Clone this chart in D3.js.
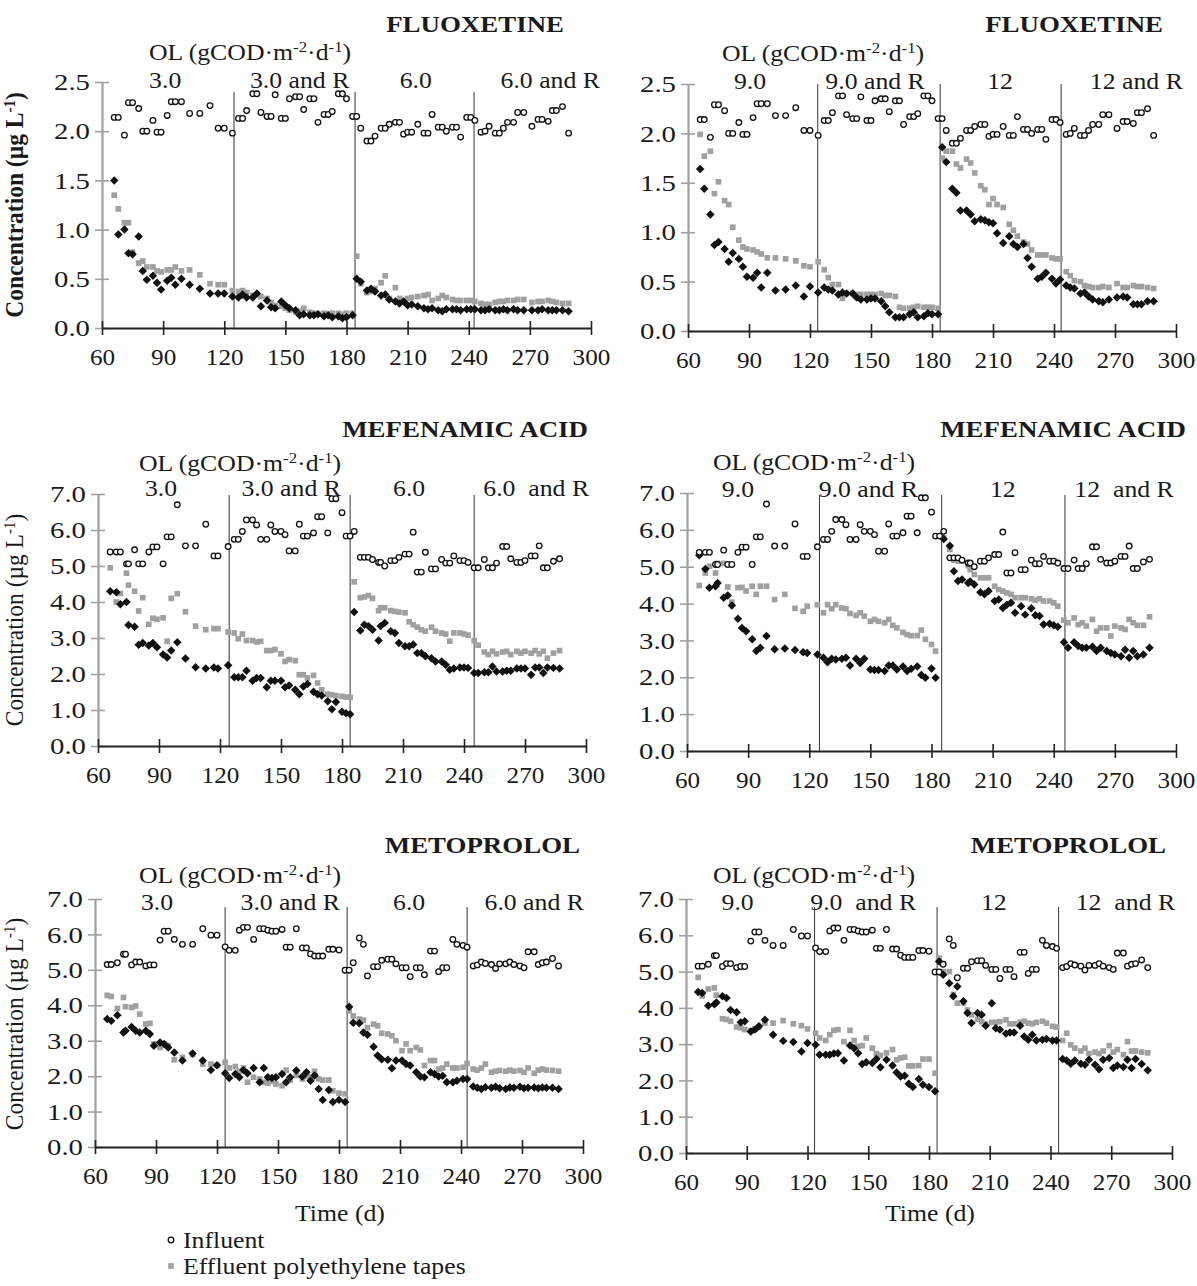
<!DOCTYPE html>
<html>
<head>
<meta charset="utf-8">
<script src="https://cdn.jsdelivr.net/npm/d3@7"></script>
<style>
  body { margin: 0; background: #fff; }
  text { font-family: "Liberation Serif", "Times New Roman", serif; fill: #1a1a1a; white-space: pre; }
</style>
</head>
<body>
<div id="chart"></div>
<script>
// ---- data ----
const dayTicks = [60, 90, 120, 150, 180, 210, 240, 270, 300];
const fluoTicks = [0, 0.5, 1.0, 1.5, 2.0, 2.5];
const concTicks = [0, 1, 2, 3, 4, 5, 6, 7];

// FLUOXETINE
const fluoDays = [66,68,71,73,75,78,80,82,85,87, 89,92,94,96,99,103,108,113,117,120,
  124,127,129,131,134,136,138,141,143,145, 148,150,152,155,157,159,162,164,166,169,
  171,173,176,178,180,183,185,187,190,192, 194,197,199,201,204,206,208,210,212,215,
  218,220,222,225,227,229,232,234,236,239, 241,243,246,248,250,253,255,257,259,262,
  264,267,271,274,276,279,281,283,286,289];
const fluoInf = [2.14,2.14,1.96,2.29,2.29,2.23,2.00,2.00,2.11,1.99, 1.99,2.16,2.30,2.30,2.30,2.18,2.18,2.26,2.03,2.03,
  1.98,2.13,2.13,2.21,2.38,2.38,2.19,2.15,2.15,2.37, 2.13,2.13,2.33,2.35,2.35,2.22,2.33,2.33,2.09,2.17,
  2.17,2.20,2.38,2.38,2.33,2.15,2.15,2.03,1.90,1.90, 1.95,2.03,2.03,2.07,2.09,2.09,1.97,1.99,1.99,2.07,
  1.98,1.98,2.17,2.04,2.04,2.00,2.04,2.04,1.94,2.14, 2.14,2.11,1.99,2.00,2.05,1.98,1.98,2.03,2.09,2.09,
  2.19,2.19,2.05,2.12,2.12,2.10,2.21,2.21,2.25,1.98];
const fluoTapesL = [1.35,1.21,1.07,1.07,0.77,0.66,0.68,0.62,0.62,0.58, 0.57,0.59,0.59,0.62,0.58,0.59,0.54,0.45,0.44,0.44,
  0.38,0.37,0.38,0.36,0.33,0.34,0.32,0.30,0.26,0.23, 0.22,0.20,0.18,0.16,0.17,0.20,0.16,0.15,0.14,0.15,
  0.14,0.15,0.15,0.14,0.15,0.15,0.73,0.45,0.36,0.37, 0.40,0.46,0.53,0.30,0.41,0.30,0.28,0.30,0.31,0.32,
  0.33,0.34,0.28,0.30,0.33,0.31,0.29,0.28,0.28,0.28, 0.28,0.27,0.25,0.24,0.24,0.26,0.27,0.27,0.28,0.28,
  0.29,0.29,0.26,0.27,0.27,0.28,0.27,0.26,0.25,0.25];
const fluoOtherL = [1.50,0.95,1.00,0.76,0.75,0.93,0.58,0.49,0.53,0.46, 0.39,0.48,0.51,0.44,0.50,0.44,0.40,0.35,0.35,0.35,
  0.32,0.31,0.34,0.31,0.31,0.35,0.22,0.28,0.21,0.20, 0.27,0.23,0.20,0.18,0.13,0.14,0.13,0.13,0.14,0.12,
  0.13,0.11,0.12,0.10,0.11,0.13,0.50,0.47,0.38,0.40, 0.37,0.33,0.34,0.29,0.27,0.25,0.27,0.23,0.24,0.22,
  0.20,0.19,0.20,0.18,0.17,0.19,0.19,0.19,0.18,0.19, 0.19,0.19,0.18,0.18,0.19,0.18,0.18,0.19,0.18,0.19,
  0.18,0.18,0.18,0.18,0.19,0.18,0.18,0.18,0.18,0.17];
const fluoTapesR = [1.99,1.77,1.82,1.39,1.51,1.32,1.28,1.05,0.92,0.85, 0.83,0.82,0.80,0.78,0.74,0.74,0.73,0.71,0.66,0.65,
  0.70,0.62,0.54,0.47,0.47,0.33,0.38,0.38,0.37,0.37, 0.37,0.37,0.37,0.38,0.36,0.36,0.35,0.24,0.23,0.23,
  0.24,0.25,0.24,0.24,0.24,0.23,1.75,1.82,1.82,1.69, 1.65,1.74,1.70,1.60,1.47,1.43,1.28,1.34,1.28,1.25,
  1.08,1.02,0.96,0.90,0.88,0.82,0.77,0.77,0.77,0.74, 0.73,0.73,0.60,0.56,0.51,0.50,0.46,0.45,0.44,0.44,
  0.45,0.44,0.48,0.44,0.44,0.46,0.45,0.45,0.44,0.43];
const fluoOtherR = [1.64,1.44,1.18,0.87,0.90,0.83,0.70,0.79,0.73,0.65, 0.55,0.54,0.59,0.44,0.59,0.41,0.42,0.46,0.35,0.45,
  0.39,0.44,0.42,0.41,0.37,0.39,0.38,0.38,0.34,0.32, 0.32,0.33,0.33,0.30,0.25,0.19,0.14,0.14,0.14,0.17,
  0.19,0.14,0.15,0.18,0.17,0.17,1.86,1.71,1.44,1.40, 1.22,1.22,1.18,1.11,1.13,1.12,1.10,1.09,0.99,0.89,
  0.96,0.88,0.85,0.88,0.74,0.65,0.53,0.55,0.59,0.53, 0.48,0.52,0.46,0.44,0.43,0.38,0.39,0.35,0.32,0.30,
  0.29,0.32,0.34,0.35,0.34,0.27,0.27,0.27,0.30,0.30];

// MEFENAMIC ACID
const mefDays = [66,69,71,74,75,78,80,82,85,87, 89,92,94,96,99,103,108,113,117,119,
  124,127,129,131,133,136,138,140,143,145, 147,150,152,154,157,159,161,163,166,168,
  170,173,175,177,180,182,184,186,189,191, 193,195,198,199,201,204,206,208,211,213,
  215,217,219,221,224,226,229,231,233,235, 238,240,242,245,247,250,252,254,256,259,
  261,263,266,268,270,273,275,277,279,281, 284,287];
const mefInf = [5.39,5.39,5.39,5.06,5.06,5.45,5.06,5.06,5.39,5.53, 5.53,5.06,5.81,5.81,6.70,5.56,5.56,6.16,5.28,5.28,
  5.54,5.74,5.74,5.96,6.28,6.28,6.14,5.74,5.74,6.14, 5.96,5.96,5.87,5.42,5.42,6.16,5.83,5.83,5.92,6.37,
  6.37,5.92,6.87,6.87,6.48,5.83,5.83,5.96,5.24,5.24, 5.24,5.18,5.10,5.10,5.00,5.15,5.15,5.24,5.33,5.33,
  5.94,4.83,4.83,5.38,4.92,4.92,5.18,5.08,5.08,5.28, 5.15,5.15,5.10,4.95,4.95,5.18,4.95,4.95,5.08,5.54,
  5.54,5.20,5.10,5.10,5.15,5.28,5.28,5.56,4.95,4.95, 5.13,5.20];
const mefTapesL = [4.95,4.00,4.24,4.80,4.47,4.30,3.75,4.12,3.38,3.55, 3.52,3.56,2.91,4.10,4.23,3.73,3.33,3.23,3.26,3.26,
  3.17,3.14,2.98,3.11,2.93,2.93,2.89,2.91,2.65,2.65, 2.68,2.56,2.35,2.40,2.37,1.98,1.98,1.89,1.96,1.75,
  1.56,1.44,1.42,1.40,1.38,1.36,1.35,4.56,4.12,4.14, 4.18,4.10,3.76,3.84,3.84,3.76,3.74,3.72,3.70,3.45,
  3.37,3.30,3.23,3.19,3.30,3.19,3.14,3.11,2.91,3.14, 3.14,3.11,3.08,2.93,2.80,2.61,2.54,2.63,2.56,2.61,
  2.63,2.54,2.63,2.58,2.63,2.58,2.65,2.56,2.63,2.44, 2.58,2.65];
const mefOtherL = [4.30,4.27,3.94,4.00,3.36,3.31,2.81,2.86,2.79,2.86, 2.74,2.54,2.46,2.65,2.88,2.43,2.19,2.15,2.18,2.15,
  2.24,1.91,1.91,1.91,2.09,1.81,1.89,1.89,1.63,1.81, 1.81,1.81,1.63,1.68,1.56,1.44,1.65,1.72,1.51,1.44,
  1.40,1.24,1.02,1.22,0.95,0.91,0.88,3.72,3.21,3.37, 3.33,3.23,2.93,3.33,3.42,3.19,3.14,2.86,2.77,2.77,
  2.82,2.58,2.58,2.49,2.44,2.35,2.35,2.26,2.12,2.15, 2.18,2.18,2.17,2.03,2.03,2.05,2.05,2.21,2.07,2.07,
  2.09,2.09,2.15,2.15,2.15,1.98,2.18,2.18,2.03,2.18, 2.17,2.15];
const mefTapesR = [4.49,4.83,5.01,4.83,5.09,5.09,4.45,4.04,4.43,4.44, 4.34,4.47,4.25,4.47,4.47,4.11,4.25,3.87,3.79,3.93,
  3.97,3.75,3.97,3.86,3.97,3.88,3.86,3.73,3.68,3.75, 3.66,3.52,3.57,3.52,3.48,3.57,3.41,3.34,3.22,3.16,
  3.13,3.13,3.28,3.03,2.89,2.71,null,5.78,5.47,5.18, 5.15,5.15,5.03,4.92,4.79,4.70,4.70,4.70,4.47,4.38,
  4.34,4.29,4.25,4.16,4.16,4.16,4.13,4.09,4.13,4.07, 4.07,4.02,3.93,3.55,3.48,3.61,3.43,3.48,3.39,3.57,
  3.25,3.34,3.34,3.12,3.39,3.34,3.30,3.57,3.48,3.41, 3.41,3.64];
const mefOtherR = [5.31,4.94,4.43,4.47,4.56,4.16,4.22,3.95,3.59,3.34, 3.25,3.03,2.71,2.80,3.12,2.76,2.78,2.74,2.68,2.66,
  2.62,2.53,2.41,2.50,2.48,2.50,2.53,2.32,2.50,2.39, 2.50,2.21,2.20,2.20,2.17,2.32,2.32,2.21,2.29,2.17,
  2.23,2.29,2.06,1.99,2.24,1.99,null,5.75,5.57,4.88, 4.61,4.65,4.56,4.60,4.52,4.31,4.25,4.34,4.07,4.11,
  3.88,3.97,4.02,3.75,3.93,3.70,3.87,3.68,3.66,3.43, 3.45,3.41,3.37,2.95,2.80,2.95,2.85,2.80,2.80,2.83,
  2.71,2.80,2.71,2.66,2.62,2.57,2.75,2.53,2.71,2.57, 2.62,2.80];

// METOPROLOL
const metDays = [66,68,71,74,75,78,80,82,85,87, 89,92,94,96,99,103,108,113,117,120,
  124,126,129,131,133,135,138,141,143,145, 147,149,152,154,156,159,162,164,166,168,
  170,172,175,177,180,183,185,187,190,192, 194,197,199,201,204,206,208,211,213,215,
  218,220,222,225,227,229,231,233,236,238, 241,243,246,248,250,252,255,257,259,262,
  264,266,269,271,273,276,278,280,282,285, 288];
const metInf = [5.15,5.15,5.20,5.44,5.44,5.14,5.22,5.22,5.11,5.14, 5.14,5.84,6.09,6.09,5.86,5.72,5.72,6.16,5.98,5.98,
  5.65,5.55,5.55,6.12,6.20,6.20,5.86,6.16,6.16,6.12, 6.09,6.09,6.14,5.64,5.64,6.16,5.62,5.62,5.45,5.39,
  5.39,5.39,5.58,5.58,5.56,4.99,4.99,5.20,5.90,5.72, 4.83,5.09,5.09,5.27,5.30,5.30,5.17,5.06,5.06,4.81,
  5.06,5.06,4.86,5.53,5.53,4.95,5.06,5.06,5.86,5.72, 5.69,5.64,5.11,5.14,5.22,5.18,5.15,5.04,5.17,5.17,
  5.22,5.15,5.11,5.06,5.51,5.51,5.15,5.20,5.22,5.32, 5.11];
const metTapesL = [4.28,4.25,3.91,4.22,3.96,3.94,3.98,3.75,3.47,3.49, 2.91,2.81,2.91,2.86,2.46,2.53,2.61,2.34,2.34,2.30,
  2.39,2.23,2.27,2.14,2.23,1.83,1.97,1.92,1.83,1.80, 1.86,1.78,1.73,2.17,1.89,2.02,1.92,1.99,1.97,2.14,
  1.92,1.89,1.89,1.59,1.52,1.50,3.84,3.70,3.61,3.58, 3.37,3.47,3.42,3.21,3.19,3.14,3.00,2.72,2.91,2.72,
  2.81,2.74,2.30,2.44,2.44,2.20,2.23,2.34,2.23,2.23, 2.25,2.36,2.20,2.17,2.23,2.34,2.11,2.14,2.16,2.14,
  2.17,2.14,2.16,2.11,2.23,2.08,2.17,2.20,2.17,2.16, 2.14];
const metOtherL = [3.61,3.56,3.72,3.23,3.28,3.39,3.28,3.23,3.28,3.19, 2.86,2.95,2.91,2.81,2.67,2.44,2.64,2.44,2.17,2.31,
  2.08,1.95,2.06,1.97,2.17,2.08,2.23,1.83,2.23,1.97, 1.95,1.97,2.06,1.83,1.97,2.16,1.99,2.11,1.87,2.02,
  1.64,1.33,1.61,1.27,1.33,1.27,3.96,3.51,3.49,3.23, 3.17,2.83,2.58,2.48,2.46,2.22,2.44,2.44,2.34,2.30,
  2.11,1.99,1.97,2.11,2.06,1.99,2.01,1.83,1.83,1.87, 1.92,1.92,1.71,1.67,1.64,1.69,1.67,1.70,1.66,1.64,
  1.68,1.67,1.70,1.66,1.67,1.68,1.66,1.68,1.67,1.67, 1.64];
const metTapesR = [4.84,4.33,4.52,4.55,4.35,3.70,3.68,3.63,3.47,3.45, 3.40,3.37,3.42,3.47,3.58,3.58,3.65,3.56,3.51,3.42,
  3.30,3.17,3.10,3.26,3.38,3.40,3.07,3.38,3.10,2.94, 2.96,3.17,2.89,2.74,2.69,2.76,2.85,2.57,2.62,2.64,
  2.40,2.40,2.41,2.59,2.59,2.20,5.37,5.00,5.00,4.37, 4.13,4.13,3.94,3.81,3.68,3.62,3.56,3.60,3.60,3.62,
  3.67,3.56,3.56,3.60,3.63,3.58,3.56,3.60,3.63,3.58, 3.49,3.47,3.10,3.30,2.98,2.89,2.81,2.89,2.74,2.78,
  2.74,2.81,2.96,2.78,2.85,2.71,3.07,2.81,2.81,2.78, 2.76];
const metOtherR = [4.44,4.41,4.06,4.10,4.15,4.32,4.27,3.94,3.88,3.60, 3.63,3.35,3.40,3.49,3.67,3.26,3.09,3.06,2.80,3.03,
  2.98,2.71,2.71,2.71,2.74,2.75,2.55,2.96,2.89,2.75, 2.45,2.50,2.48,2.59,2.36,2.57,2.41,2.22,2.11,2.13,
  1.91,1.82,2.04,1.88,1.82,1.70,5.28,4.91,4.68,4.32, 4.59,4.18,3.86,3.58,3.86,3.81,3.51,4.13,3.44,3.40,
  3.29,3.32,3.32,3.51,3.21,3.12,3.26,3.10,3.12,3.14, 3.10,3.10,2.59,2.55,2.46,2.55,2.46,2.43,2.57,2.43,
  2.31,2.57,2.62,2.34,2.41,2.37,2.57,2.34,2.59,2.45, 2.28];

// organic loading periods (labels) and the days where they change
const fluoPeriodsL = ["3.0", "3.0 and R", "6.0", "6.0 and R"];
const fluoPeriodsR = ["9.0", "9.0 and R", "12", "12 and R"];
const mefPeriodsL = ["3.0", "3.0 and R", "6.0", "6.0  and R"];
const mefPeriodsR = ["9.0", "9.0 and R", "12", "12  and R"];
const metPeriodsL = ["3.0", "3.0 and R", "6.0", "6.0 and R"];
const metPeriodsR = ["9.0", "9.0  and R", "12", "12  and R"];
const fluoSwitchL = [124.8, 184.2, 242.6];
const fluoSwitchR = [123.8, 184.0, 243.5];
const mefSwitchL = [124.5, 184.0, 245.0];
const mefSwitchR = [125.0, 185.0, 245.5];
const metSwitchL = [124.0, 184.0, 243.0];
const metSwitchR = [123.5, 184.0, 244.0];

// ---- panel layout ----
const panels = [
  { title: "FLUOXETINE", ticks: fluoTicks, days: fluoDays, inf: fluoInf, tapes: fluoTapesL, other: fluoOtherL,
    periods: fluoPeriodsL, switches: fluoSwitchL, labelDays: [91, 157, 214, 280],
    x0: 102, x1: 591, yb: 328, yt: 82, titleX: 564, titleY: 32, olX: 250, olY: 60, segY: 88, sepTop: 92,
    ylab: { y: 205, bold: true } },
  { title: "FLUOXETINE", ticks: fluoTicks, days: fluoDays, inf: fluoInf, tapes: fluoTapesR, other: fluoOtherR,
    periods: fluoPeriodsR, switches: fluoSwitchR, labelDays: [90.5, 152, 213.5, 280.5],
    x0: 688, x1: 1176, yb: 331, yt: 84, titleX: 1163, titleY: 32, olX: 823, olY: 61, segY: 89, sepTop: 84 },
  { title: "MEFENAMIC ACID", ticks: concTicks, days: mefDays, inf: mefInf, tapes: mefTapesL, other: mefOtherL,
    periods: mefPeriodsL, switches: mefSwitchL, labelDays: [91, 155, 213, 275.5],
    x0: 98, x1: 586, yb: 746, yt: 494, titleX: 588, titleY: 437, olX: 240, olY: 471, segY: 496, sepTop: 495,
    ylab: { y: 620, bold: false } },
  { title: "MEFENAMIC ACID", ticks: concTicks, days: mefDays, inf: mefInf, tapes: mefTapesR, other: mefOtherR,
    periods: mefPeriodsR, switches: mefSwitchR, labelDays: [85, 149, 215, 274.5],
    x0: 687, x1: 1176, yb: 751, yt: 493, titleX: 1186, titleY: 437, olX: 814, olY: 470, segY: 497, sepTop: 495 },
  { title: "METOPROLOL", ticks: concTicks, days: metDays, inf: metInf, tapes: metTapesL, other: metOtherL,
    periods: metPeriodsL, switches: metSwitchL, labelDays: [90.5, 156, 214.5, 276],
    x0: 95, x1: 583, yb: 1147, yt: 899, titleX: 580, titleY: 853, olX: 240, olY: 883, segY: 910, sepTop: 907,
    ylab: { y: 1024, bold: false } },
  { title: "METOPROLOL", ticks: concTicks, days: metDays, inf: metInf, tapes: metTapesR, other: metOtherR,
    periods: metPeriodsR, switches: metSwitchR, labelDays: [85.5, 147.5, 212, 277],
    x0: 686, x1: 1172, yb: 1153, yt: 899, titleX: 1166, titleY: 853, olX: 814, olY: 883, segY: 910, sepTop: 907 }
];

const grey = "#a0a0a0";
const ink = "#1a1a1a";
const sx = 1.12;        // the printed figure is a bit wider than tall, text included

let svg = d3.select("#chart")
    .append("svg")
    .attr("width", 1197)
    .attr("height", 1286);

let squareSym = d3.symbol().type(d3.symbolSquare).size(32)();
let diamondSym = d3.symbol().type(d3.symbolSquare).size(36)();   // rotated 45deg below

// text helper: place and stretch a bit horizontally
function label(parent, x, y, size, stretch) {
    return parent.append("text")
        .attr("transform", `translate(${x},${y}) scale(${stretch || sx},1)`)
        .attr("font-size", size);
}

function supText(sel, parts, size) {
    // parts: [text, sup, text, sup, ...]
    parts.forEach(function (p, i) {
        let t = sel.append("tspan").text(p);
        if (i % 2 == 1) t.attr("baseline-shift", "super").attr("font-size", size);
    });
}

panels.forEach(function (p) {
    let g = svg.append("g");

    let x = d3.scaleLinear().domain([60, 300]).range([p.x0, p.x1]);
    let y = d3.scaleLinear().domain([0, d3.max(p.ticks)]).range([p.yb, p.yt]);

    // y axis - light grey
    let yAxis = g.append("g")
        .attr("transform", `translate(${p.x0},0)`)
        .call(d3.axisLeft(y).tickValues(p.ticks).tickFormat(d3.format(".1f")).tickSizeInner(7).tickSizeOuter(0));
    yAxis.attr("font-family", null).attr("font-size", null);
    yAxis.select(".domain").attr("stroke", grey).attr("stroke-width", 2.2);
    yAxis.selectAll(".tick line").attr("x1", 7).attr("stroke", grey).attr("stroke-width", 1.6);
    yAxis.selectAll(".tick text")
        .attr("transform", "scale(1.28,1)")
        .attr("x", -12 / 1.28).attr("dy", "0.34em")
        .attr("font-size", 22.5).style("fill", ink);

    // x axis - dark
    let xAxis = g.append("g")
        .attr("transform", `translate(0,${p.yb})`)
        .call(d3.axisBottom(x).tickValues(dayTicks).tickSizeInner(7).tickSizeOuter(0));
    xAxis.attr("font-family", null).attr("font-size", null);
    xAxis.select(".domain").attr("stroke", "#222").attr("stroke-width", 1.8);
    xAxis.selectAll(".tick line").attr("y1", -7).attr("stroke", "#222").attr("stroke-width", 1.6);
    xAxis.selectAll(".tick text")
        .attr("transform", `scale(${sx},1)`)
        .attr("y", 37).attr("dy", 0)
        .attr("font-size", 22.5).style("fill", ink);

    // period separators
    g.selectAll(".sep")
        .data(p.switches)
        .join("line")
        .attr("class", "sep")
        .attr("x1", d => x(d)).attr("x2", d => x(d))
        .attr("y1", p.sepTop).attr("y2", p.yb)
        .attr("stroke", "#333")
        .attr("stroke-width", 1);

    let rows = function (vals) {
        return p.days.map((d, i) => ({ day: d, v: vals[i] })).filter(d => d.v != null);
    };

    // effluent polyethylene tapes - grey squares
    g.selectAll(".pe")
        .data(rows(p.tapes))
        .join("path")
        .attr("class", "pe")
        .attr("d", squareSym)
        .attr("transform", d => `translate(${x(d.day)},${y(d.v)})`)
        .attr("fill", grey);

    // other effluent - black diamonds
    g.selectAll(".dia")
        .data(rows(p.other))
        .join("path")
        .attr("class", "dia")
        .attr("d", diamondSym)
        .attr("transform", d => `translate(${x(d.day)},${y(d.v)}) rotate(45)`)
        .attr("fill", "#111");

    // influent - open circles
    g.selectAll(".inf")
        .data(rows(p.inf))
        .join("circle")
        .attr("class", "inf")
        .attr("cx", d => x(d.day))
        .attr("cy", d => y(d.v))
        .attr("r", 2.8)
        .attr("fill", "white")
        .attr("stroke", "#111")
        .attr("stroke-width", 1.3);

    // title
    label(g, p.titleX, p.titleY, 23, 1.17)
        .attr("text-anchor", "end")
        .attr("font-weight", "bold")
        .text(p.title);

    // OL header
    let ol = label(g, p.olX, p.olY, 23).attr("text-anchor", "middle");
    supText(ol, ["OL (gCOD·m", "-2", "·d", "-1", ")"], 15);

    // period labels
    p.periods.forEach(function (txt, i) {
        label(g, x(p.labelDays[i]), p.segY, 23).attr("text-anchor", "middle").text(txt);
    });

    // y label
    if (p.ylab) {
        let yl = g.append("text")
            .attr("transform", `translate(23,${p.ylab.y}) rotate(-90) scale(1,1.1)`)
            .attr("text-anchor", "middle")
            .attr("font-size", 23.5)
            .attr("font-weight", p.ylab.bold ? "bold" : "normal");
        supText(yl, ["Concentration (µg L", "-1", ")"], 15);
    }
});

// x axis titles
[340, 930].forEach(function (cx) {
    label(svg, cx, 1221, 23).attr("text-anchor", "middle").text("Time (d)");
});

// legend
let legend = svg.append("g");
legend.append("circle")
    .attr("cx", 171).attr("cy", 1240).attr("r", 2.8)
    .attr("fill", "white").attr("stroke", "#111").attr("stroke-width", 1.3);
label(legend, 183, 1248, 23).text("Influent");
legend.append("path")
    .attr("d", squareSym)
    .attr("transform", "translate(171,1266)")
    .attr("fill", grey);
label(legend, 183, 1274, 23).text("Effluent polyethylene tapes");
</script>
</body>
</html>
